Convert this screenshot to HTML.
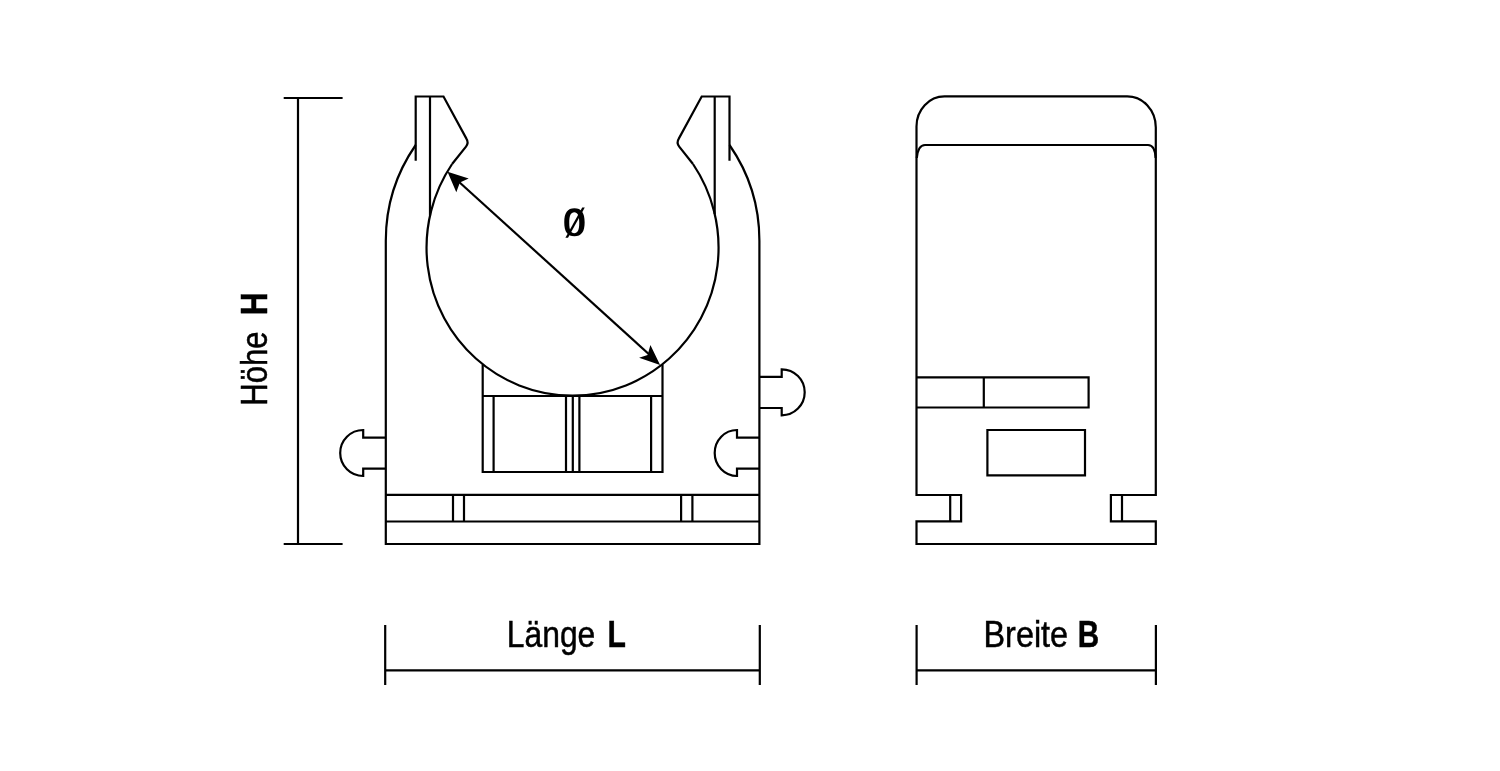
<!DOCTYPE html>
<html><head><meta charset="utf-8">
<style>
html,body{margin:0;padding:0;background:#fff;width:1500px;height:771px;overflow:hidden}
svg{display:block;will-change:transform}
text{font-family:"Liberation Sans",sans-serif;fill:#000}
</style></head>
<body>
<svg width="1500" height="771" viewBox="0 0 1500 771">
<g fill="none" stroke="#000" stroke-width="2.2" stroke-linejoin="miter" stroke-linecap="butt">
<!-- height dimension -->
<path d="M298 98V544M283.7 98H342.6M283.7 544H342.6"/>
<!-- length dimension -->
<path d="M385.2 625V685M759.8 625V685M385.2 670.3H759.8"/>
<!-- width dimension -->
<path d="M916.6 625V685M1155.9 625V685M916.6 670.3H1155.9"/>

<!-- FRONT VIEW -->
<!-- outer body -->
<path d="M415.7 145A168 168 0 0 0 385.8 241V544H759.4V241A168 168 0 0 0 729.5 145"/>
<!-- left hook -->
<path d="M415.7 160.7V96.5H443.5L466.4 138.6Q469 142.8 466 146.6L452.1 164"/>
<path d="M430 96.5V215.5"/>
<!-- right hook -->
<path d="M729.5 160.7V96.5H701.7L678.8 138.6Q676.2 142.8 679.2 146.6L693 164"/>
<path d="M714.7 96.5V214"/>
<!-- big circle -->
<path d="M452.1 164A146 148 0 1 0 693 164"/>
<!-- base -->
<path d="M385.8 494.8H759.4M385.8 521.5H759.4M453 494.8V521.5M464 494.8V521.5M681.1 494.8V521.5M692.4 494.8V521.5"/>
<!-- center block -->
<path d="M482.7 364.5V472H662.5V364.5M482.7 396H662.5M493.6 396V472M566 396V472M572.8 396V472M579.4 396V472M651.1 396V472"/>
<!-- pegs -->
<path d="M385.8 437.7H363.2V430A23 23 0 0 0 363.2 476V468.6H385.8"/>
<path d="M759.4 437.6H737V430A22.3 23 0 0 0 737 476V468.6H759.4"/>
<path d="M759.4 376.8H781.7V369.3A23 23 0 0 1 781.7 415.3V408H759.4"/>

<!-- SIDE VIEW -->
<path d="M916.5 495V126.4A28 30 0 0 1 944.5 96.4H1127.3A28.5 31 0 0 1 1155.8 127.4V495H1110.9V521.3H1155.8V544H916.5V521.3H961.1V495Z"/>
<path d="M950.2 495V521.3M1122 495V521.3"/>
<path d="M916.8 158Q918 145 925 145H1148Q1155 145 1155.6 158"/>
<path d="M916.5 377.4H1088.6V407.5H916.5M983.8 377.4V407.5"/>
<path d="M987.4 430H1085V475.4H987.4Z"/>
</g>
<!-- arrow -->
<g fill="#000" stroke="none">
<path d="M458 181L649 354.2" stroke="#000" stroke-width="2.2"/>
<path d="M447.5 171.7L468.7 178.6L459.9 182.6L456.3 192.2Z"/>
<path d="M660.1 365L650.4 344.9L647.6 355L639.1 357.7Z"/>
</g>
<g stroke="#000" stroke-width="0.5">
<text x="506.8" y="647" font-size="37" textLength="88.5" lengthAdjust="spacingAndGlyphs">Länge</text>
<text x="607.6" y="647" font-size="37" font-weight="bold" textLength="18.4" lengthAdjust="spacingAndGlyphs">L</text>
<text x="983.5" y="647" font-size="37" textLength="84.6" lengthAdjust="spacingAndGlyphs">Breite</text>
<text x="1077.8" y="647" font-size="37" font-weight="bold" textLength="21.4" lengthAdjust="spacingAndGlyphs">B</text>
<path stroke="none" fill-rule="evenodd" d="M564.25 222.25C564.25 212.70 567.51 208.20 574.45 208.20C581.39 208.20 584.65 212.70 584.65 222.25C584.65 231.80 581.39 236.30 574.45 236.30C567.51 236.30 564.25 231.80 564.25 222.25ZM569.25 222.65C569.25 215.51 570.85 212.15 574.25 212.15C577.65 212.15 579.25 215.51 579.25 222.65C579.25 229.79 577.65 233.15 574.25 233.15C570.85 233.15 569.25 229.79 569.25 222.65Z"/><path stroke="none" d="M565.4 237.8H568L584.8 207.5H582.2Z"/>
<g transform="translate(267,405.8) rotate(-90)">
<text x="0" y="0" font-size="37" textLength="74.3" lengthAdjust="spacingAndGlyphs">Höhe</text>
<text x="90.5" y="0" font-size="37" font-weight="bold" textLength="23" lengthAdjust="spacingAndGlyphs">H</text>
</g>
</g>
</svg>
</body></html>
